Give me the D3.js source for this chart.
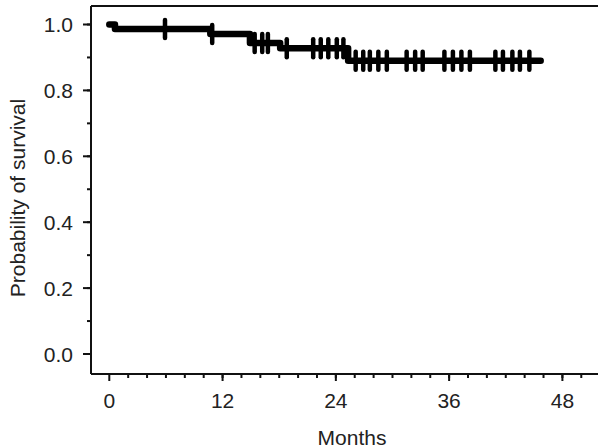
<!DOCTYPE html>
<html>
<head>
<meta charset="utf-8">
<script src="https://cdn.jsdelivr.net/npm/d3@7"></script>
<style>
  body { margin: 0; background: #fff; }
  svg { display: block; }
</style>
</head>
<body>
<svg id="chart" width="598" height="448"></svg>
<script>
// step times (months) and survival after each step
const stepTimes = [0, 0.6, 10.7, 14.9, 18.1, 25.3];
const stepSurv = [1.0, 0.986, 0.971, 0.944, 0.928, 0.89];
const lastTime = 45.7;
// censored observations (months)
const censorTimes = [5.9, 10.9, 15.4, 16.2, 16.8, 18.8, 21.6, 22.4, 23.2, 24.1, 24.8,
    26.1, 26.9, 27.6, 28.5, 29.4, 31.5, 32.4, 33.2, 35.5, 36.4, 37.3, 38.2,
    40.9, 41.7, 42.7, 43.5, 44.5];
const xTicks = [0, 12, 24, 36, 48];
const yTicks = [0.0, 0.2, 0.4, 0.6, 0.8, 1.0];

const svg = d3.select("#chart");
const font = "'Liberation Sans', Arial, sans-serif";

const x = d3.scaleLinear().domain([0, 48]).range([109.3, 562.4]);
const y = d3.scaleLinear().domain([0, 1]).range([354, 24.5]);

const frame = {left: 91, right: 598, top: 6, bottom: 374};

// frame: top line
svg.append("line")
    .attr("x1", frame.left).attr("x2", frame.right)
    .attr("y1", frame.top).attr("y2", frame.top)
    .attr("stroke", "#111").attr("stroke-width", 2);

// left axis
const gy = svg.append("g").attr("transform", `translate(${frame.left},0)`);
gy.append("line").attr("y1", frame.top).attr("y2", frame.bottom).attr("stroke", "#111").attr("stroke-width", 2);
gy.selectAll(".minor")
    .data(d3.range(0, 11).map(d => d / 10))
    .join("line")
    .attr("class", "minor")
    .attr("x1", -4).attr("x2", 0)
    .attr("y1", d => y(d)).attr("y2", d => y(d))
    .attr("stroke", "#111").attr("stroke-width", 2);
gy.selectAll(".major")
    .data(yTicks)
    .join("line")
    .attr("class", "major")
    .attr("x1", -8).attr("x2", 0)
    .attr("y1", d => y(d)).attr("y2", d => y(d))
    .attr("stroke", "#111").attr("stroke-width", 2);
gy.selectAll("text")
    .data(yTicks)
    .join("text")
    .attr("x", -18)
    .attr("y", d => y(d))
    .attr("dy", "0.36em")
    .attr("text-anchor", "end")
    .attr("font-family", font)
    .attr("font-size", "21px")
    .attr("fill", "#222")
    .text(d => d.toFixed(1));

// bottom axis
const gx = svg.append("g").attr("transform", `translate(0,${frame.bottom})`);
gx.append("line").attr("x1", frame.left).attr("x2", frame.right).attr("stroke", "#111").attr("stroke-width", 2);
gx.selectAll(".minor")
    .data(d3.range(2, 52, 2))
    .join("line")
    .attr("class", "minor")
    .attr("x1", d => x(d)).attr("x2", d => x(d))
    .attr("y1", 0).attr("y2", 4)
    .attr("stroke", "#111").attr("stroke-width", 2);
gx.selectAll(".major")
    .data(xTicks)
    .join("line")
    .attr("class", "major")
    .attr("x1", d => x(d)).attr("x2", d => x(d))
    .attr("y1", 0).attr("y2", 7)
    .attr("stroke", "#111").attr("stroke-width", 2);
gx.selectAll("text")
    .data(xTicks)
    .join("text")
    .attr("x", d => x(d))
    .attr("y", 34)
    .attr("text-anchor", "middle")
    .attr("font-family", font)
    .attr("font-size", "21px")
    .attr("fill", "#222")
    .text(d => d);

// axis titles
svg.append("text")
    .attr("x", 352).attr("y", 445)
    .attr("text-anchor", "middle")
    .attr("font-family", font)
    .attr("font-size", "21px")
    .attr("fill", "#222")
    .text("Months");

svg.append("text")
    .attr("transform", "translate(25,198) rotate(-90)")
    .attr("text-anchor", "middle")
    .attr("font-family", font)
    .attr("font-size", "21px")
    .attr("fill", "#222")
    .text("Probability of survival");

// survival curve
const pts = stepTimes.map((t, i) => ({t: t, s: stepSurv[i]}));
pts.push({t: lastTime, s: stepSurv[stepSurv.length - 1]});

svg.append("path")
    .datum(pts)
    .attr("fill", "none")
    .attr("stroke", "#000")
    .attr("stroke-width", 6.5)
    .attr("stroke-linecap", "round")
    .attr("stroke-linejoin", "round")
    .attr("d", d3.line().x(d => x(d.t)).y(d => y(d.s)).curve(d3.curveStepAfter));

const survAt = t => {
    let s = stepSurv[0];
    stepTimes.forEach((st, i) => { if (t >= st) s = stepSurv[i]; });
    return s;
};

svg.selectAll(".censor")
    .data(censorTimes)
    .join("line")
    .attr("class", "censor")
    .attr("x1", d => x(d)).attr("x2", d => x(d))
    .attr("y1", d => y(survAt(d)) - 9)
    .attr("y2", d => y(survAt(d)) + 9)
    .attr("stroke", "#000")
    .attr("stroke-width", 4.5)
    .attr("stroke-linecap", "round");
</script>
</body>
</html>
